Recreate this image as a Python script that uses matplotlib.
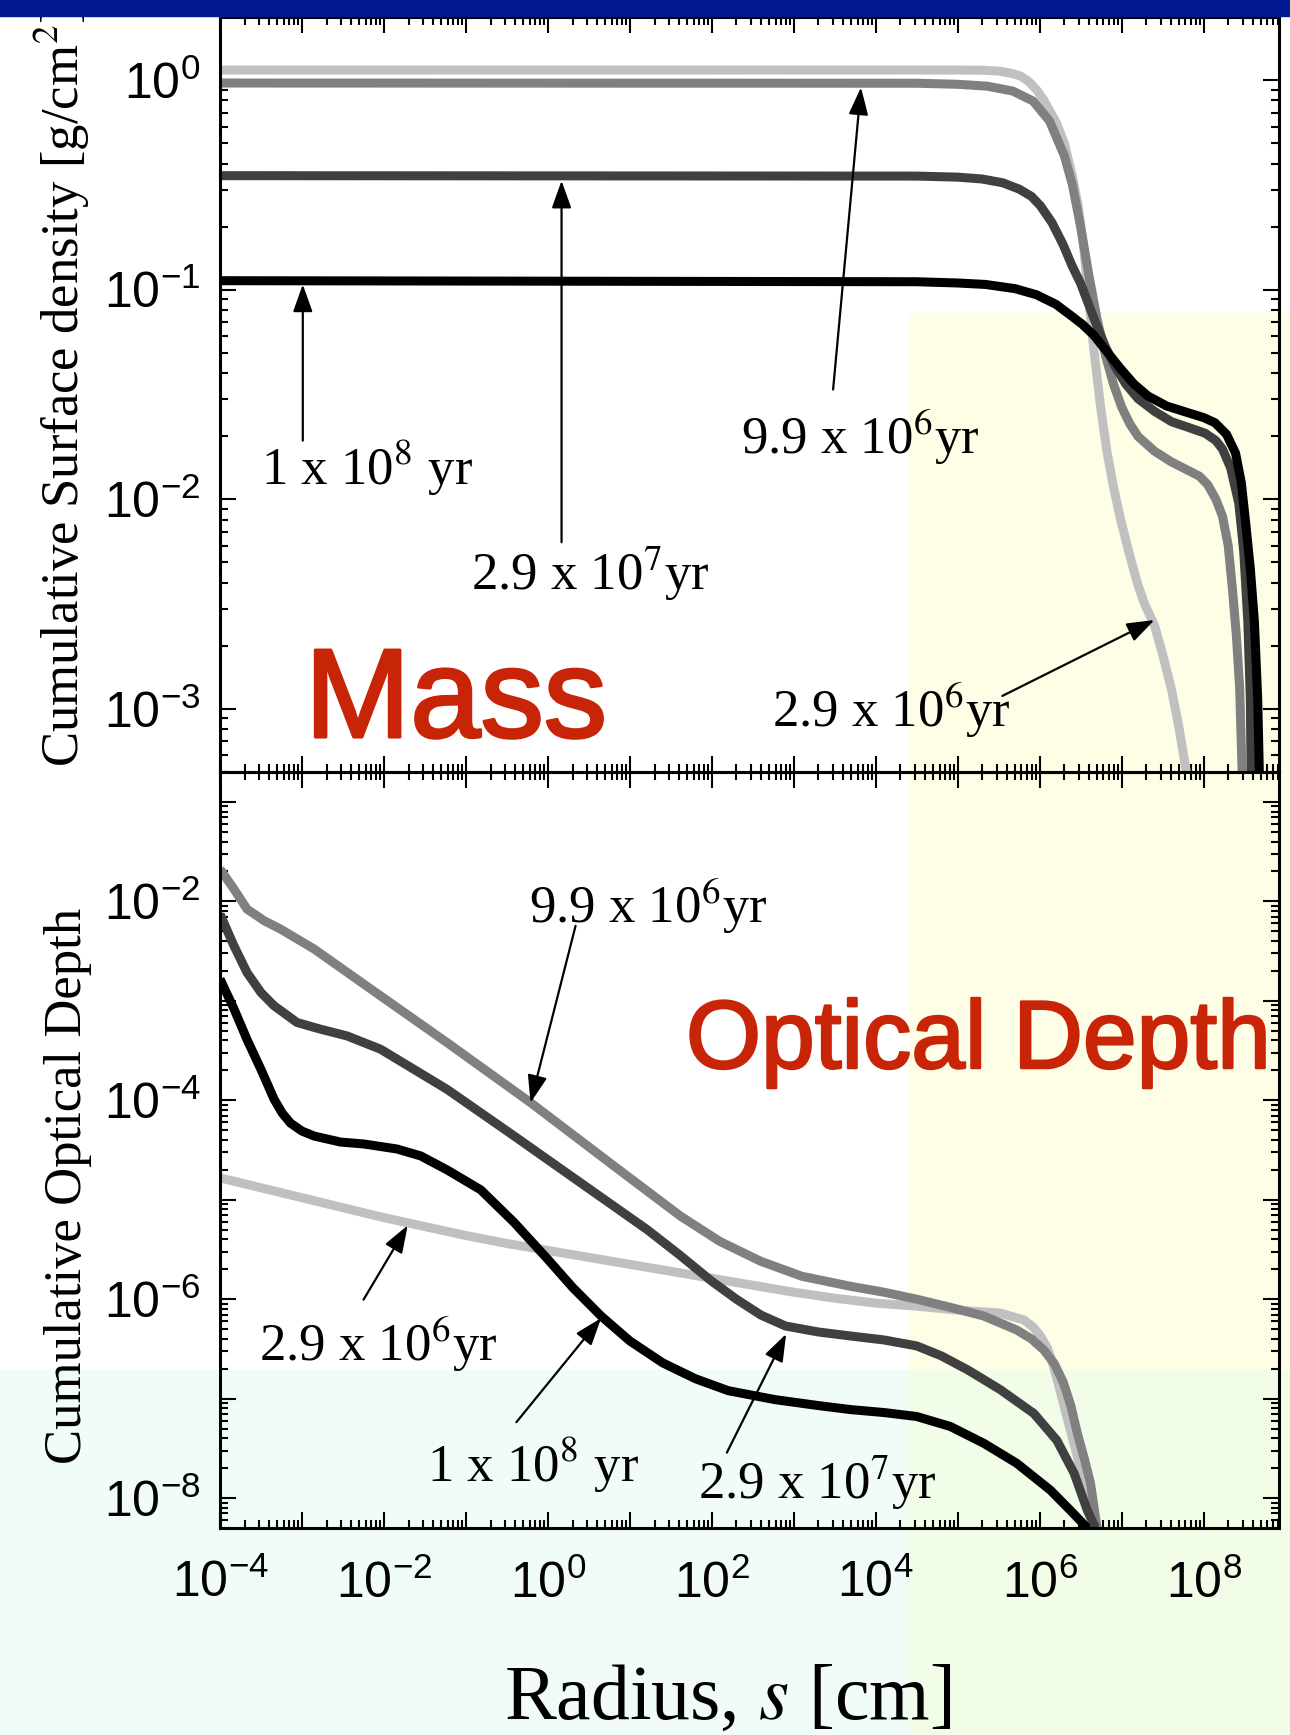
#!/usr/bin/env python3

'''
Cumulative surface density (mass) and cumulative optical depth
against particle radius, for four ages of the disk.
'''

import numpy as np
import matplotlib
matplotlib.use('Agg')
import matplotlib.pyplot as plt
import matplotlib.patheffects as pe
from matplotlib.patches import Rectangle
from matplotlib.ticker import LogLocator, FuncFormatter, NullFormatter

plt.rcParams['font.family'] = ['Liberation Sans', 'DejaVu Sans']
plt.rcParams['mathtext.fontset'] = 'stix'

SERIF = 'Liberation Serif'

AGES = ['2.9e6', '9.9e6', '2.9e7', '1e8']
GREYS = ['#c0c0c0', '#808080', '#404040', '#000000']

# ---- upper panel, log10 radius [cm] and log10 cumulative surface density
MASS_S_29E6 = [-4, 4, 5.0, 5.3, 5.5, 5.65, 5.77, 5.87, 5.97, 6.05, 6.12,
               6.2, 6.3, 6.4, 6.47, 6.54, 6.6, 6.66, 6.74, 6.82, 6.9, 6.99,
               7.1, 7.2, 7.28, 7.4, 7.5, 7.61, 7.7, 7.79]
MASS_Y_29E6 = [0.048, 0.048, 0.048, 0.047, 0.043, 0.033, 0.019, -0.008,
               -0.05, -0.095, -0.145, -0.2, -0.3, -0.46, -0.6, -0.81, -1.05,
               -1.28, -1.55, -1.77, -1.94, -2.1, -2.27, -2.41, -2.5, -2.6,
               -2.74, -2.91, -3.09, -3.3]

MASS_S_99E6 = [-4, 4.5, 5.0, 5.36, 5.67, 5.92, 6.12, 6.3, 6.4, 6.5, 6.6,
               6.7, 6.8, 6.9, 7.0, 7.1, 7.2, 7.4, 7.6, 7.8, 7.95, 8.05, 8.15,
               8.23, 8.3, 8.35, 8.4, 8.44, 8.47]
MASS_Y_99E6 = [-0.014, -0.015, -0.02, -0.029, -0.052, -0.1, -0.195, -0.36,
               -0.5, -0.7, -0.93, -1.14, -1.31, -1.45, -1.56, -1.64, -1.7,
               -1.77, -1.82, -1.86, -1.89, -1.93, -2.0, -2.08, -2.22, -2.42,
               -2.65, -2.9, -3.3]

MASS_S_29E7 = [-4, 4.5, 5.0, 5.3, 5.55, 5.75, 5.9, 6.01, 6.15, 6.28, 6.4,
               6.5, 6.66, 6.8, 6.91, 7.05, 7.2, 7.4, 7.61, 7.8, 8.02, 8.15,
               8.23, 8.33, 8.43, 8.49, 8.54, 8.57, 8.58]
MASS_Y_29E7 = [-0.456, -0.458, -0.463, -0.472, -0.49, -0.52, -0.555, -0.6,
               -0.68, -0.78, -0.89, -0.97, -1.135, -1.27, -1.36, -1.45, -1.52,
               -1.58, -1.63, -1.655, -1.685, -1.72, -1.76, -1.85, -2.02,
               -2.25, -2.585, -2.95, -3.3]

MASS_S_1E8 = [-4, 4.5, 5.0, 5.34, 5.7, 5.96, 6.2, 6.37, 6.52, 6.66, 6.83,
              6.99, 7.15, 7.32, 7.55, 7.81, 8.0, 8.14, 8.28, 8.39, 8.46, 8.51,
              8.57, 8.62, 8.66, 8.68]
MASS_Y_1E8 = [-0.957, -0.962, -0.968, -0.975, -0.995, -1.024, -1.07, -1.12,
              -1.165, -1.217, -1.3, -1.378, -1.45, -1.507, -1.555, -1.587,
              -1.61, -1.635, -1.69, -1.78, -1.92, -2.1, -2.33, -2.585, -2.95,
              -3.3]

# ---- lower panel, log10 radius [cm] and log10 cumulative optical depth
TAU_S_29E6 = [-4, -3.5, -3, -2.5, -2, -1.5, -1, -0.5, 0, 0.5, 1, 1.5, 2,
              2.5, 3, 3.5, 4, 4.5, 5.0, 5.52, 5.81, 5.92, 6.01, 6.1, 6.17,
              6.25, 6.33, 6.44, 6.54, 6.68]
TAU_Y_29E6 = [-4.78, -4.88, -4.98, -5.08, -5.18, -5.27, -5.36, -5.44, -5.51,
              -5.58, -5.65, -5.72, -5.79, -5.86, -5.93, -5.99, -6.04, -6.07,
              -6.11, -6.14, -6.21, -6.28, -6.37, -6.5, -6.68, -6.92, -7.18,
              -7.52, -7.85, -8.3]

TAU_S_99E6 = [-4, -3.83, -3.67, -3.46, -3.26, -2.85, -2.04, -1.23, -0.21,
              0.81, 1.62, 2.1, 2.6, 3.1, 3.69, 4.1, 4.5, 4.9, 5.32, 5.72, 5.9,
              6.05, 6.18, 6.29, 6.38, 6.46, 6.55, 6.62, 6.70]
TAU_Y_99E6 = [-1.675, -1.876, -2.078, -2.195, -2.279, -2.48, -2.951, -3.42,
              -4.024, -4.663, -5.166, -5.42, -5.62, -5.77, -5.87, -5.93, -6.0,
              -6.08, -6.17, -6.31, -6.4, -6.51, -6.65, -6.84, -7.07, -7.35,
              -7.62, -7.85, -8.3]

TAU_S_29E7 = [-4, -3.83, -3.67, -3.5, -3.34, -3.06, -2.77, -2.45, -2.04,
              -1.23, -0.41, 0.40, 1.21, 1.6, 2.0, 2.3, 2.6, 2.9, 3.3, 3.69,
              4.1, 4.5, 4.8, 5.12, 5.52, 5.93, 6.21, 6.42, 6.58, 6.68]
TAU_Y_29E7 = [-2.128, -2.447, -2.716, -2.917, -3.05, -3.218, -3.286, -3.353,
              -3.487, -3.89, -4.36, -4.83, -5.30, -5.55, -5.82, -6.0, -6.16,
              -6.27, -6.33, -6.37, -6.41, -6.47, -6.57, -6.71, -6.91, -7.15,
              -7.42, -7.75, -8.12, -8.3]

TAU_S_1E8 = [-4, -3.83, -3.67, -3.5, -3.34, -3.24, -3.14, -3.0, -2.85, -2.53,
             -2.24, -1.84, -1.55, -1.23, -0.82, -0.41, 0.0, 0.3, 0.65, 1.0,
             1.4, 1.8, 2.2, 2.77, 3.3, 3.69, 4.1, 4.5, 4.91, 5.32, 5.72, 6.13,
             6.37, 6.58]
TAU_Y_1E8 = [-2.78, -3.08, -3.39, -3.69, -3.99, -4.13, -4.23, -4.31, -4.36,
             -4.42, -4.44, -4.49, -4.56, -4.70, -4.90, -5.23, -5.6, -5.88,
             -6.17, -6.42, -6.64, -6.8, -6.92, -7.01, -7.07, -7.11, -7.14,
             -7.18, -7.28, -7.45, -7.65, -7.92, -8.12, -8.3]

MASS_S = [MASS_S_29E6, MASS_S_99E6, MASS_S_29E7, MASS_S_1E8]
MASS_Y = [MASS_Y_29E6, MASS_Y_99E6, MASS_Y_29E7, MASS_Y_1E8]
TAU_S = [TAU_S_29E6, TAU_S_99E6, TAU_S_29E7, TAU_S_1E8]
TAU_Y = [TAU_Y_29E6, TAU_Y_99E6, TAU_Y_29E7, TAU_Y_1E8]

# labels: text, text anchor (log s, log y), arrow tail, arrow tip
MASS_NOTES = [
    ('1 x 10$^8$ yr', (-3.50, -1.933), (-2.99, -1.72), (-2.99, -0.975)),
    ('2.9 x 10$^7$yr', (-0.94, -2.433), (0.167, -2.205), (0.167, -0.48)),
    ('9.9 x 10$^6$yr', (2.36, -1.784), (3.48, -1.476), (3.82, -0.035)),
    ('2.9 x 10$^6$yr', (2.74, -3.086), (5.545, -2.938), (7.40, -2.576)),
]
TAU_NOTES = [
    ('9.9 x 10$^6$yr', (-0.225, -2.219), (0.338, -2.246), (-0.211, -4.024)),
    ('2.9 x 10$^6$yr', (-3.525, -6.619), (-2.249, -6.005), (-1.71, -5.258)),
    ('1 x 10$^8$ yr', (-1.48, -7.838), (-0.384, -7.237), (0.65, -6.19)),
    ('2.9 x 10$^7$yr', (1.826, -8.009), (2.184, -7.543), (2.907, -6.35)),
]

W, H = 1290, 1735


def sci_label(even_only):
    def fmt(val, pos):
        exp = int(round(np.log10(val)))
        if even_only and exp % 2:
            return ''
        return '$\\mathdefault{10^{%d}}$' % exp
    return FuncFormatter(fmt)


def style_axis(ax, ylim, y_even_only, show_x):
    ax.set_xscale('log')
    ax.set_yscale('log')
    ax.set_xlim(1e-4, 10 ** 8.92)
    ax.set_ylim(*ylim)
    ax.set_facecolor('none')
    for sp in ax.spines.values():
        sp.set_linewidth(2.2)
    for axis in (ax.xaxis, ax.yaxis):
        axis.set_major_locator(LogLocator(base=10, numticks=40))
        axis.set_minor_locator(LogLocator(base=10, subs=np.arange(2, 10),
                                          numticks=40))
        axis.set_minor_formatter(NullFormatter())
    ax.xaxis.set_major_formatter(sci_label(True))
    ax.yaxis.set_major_formatter(sci_label(y_even_only))
    ax.tick_params(which='both', direction='in', top=True, right=True,
                   width=1.5, labelsize=36)
    ax.tick_params(which='major', length=11.5)
    ax.tick_params(which='minor', length=5.8)
    ax.tick_params(axis='x', pad=23, labelbottom=show_x)
    ax.tick_params(axis='y', pad=14)


def annotate(ax, notes):
    for text, anchor, tail, tip in notes:
        ax.text(10 ** anchor[0], 10 ** anchor[1], text, ha='left',
                va='baseline', fontsize=38, family=SERIF)
        ax.annotate('', xy=(10 ** tip[0], 10 ** tip[1]),
                    xytext=(10 ** tail[0], 10 ** tail[1]),
                    arrowprops=dict(arrowstyle='-|>,head_length=0.7,head_width=0.25',
                                    lw=1.6, color='k', mutation_scale=24,
                                    shrinkA=0, shrinkB=0))


fig = plt.figure(figsize=(W / 100, H / 100), dpi=100)
fig.patch.set_facecolor('white')

# pale highlight bands behind the panels
fig.patches.append(Rectangle((909 / W, 0), 1 - 909 / W, 1 - 313 / H,
                             transform=fig.transFigure, color='#fefee6',
                             zorder=-10))
fig.patches.append(Rectangle((0, 0), 909 / W, 1 - 1370 / H,
                             transform=fig.transFigure, color='#f1fcf9',
                             zorder=-9))
fig.patches.append(Rectangle((909 / W, 0), 1 - 909 / W, 1 - 1370 / H,
                             transform=fig.transFigure, color='#f1fde7',
                             zorder=-9))
# slide header bar
fig.patches.append(Rectangle((0, 1 - 15.7 / H), 1, 15.7 / H,
                             transform=fig.transFigure, color='#011a93',
                             zorder=20))

left, width = 220 / W, 1059 / W
ax_m = fig.add_axes([left, 1 - 772 / H, width, 755 / H])
ax_t = fig.add_axes([left, 1 - 1528 / H, width, 756 / H])

for s, y, c in zip(MASS_S, MASS_Y, GREYS):
    ax_m.plot(10 ** np.array(s), 10 ** np.array(y), color=c, lw=6.5,
              solid_capstyle='butt', solid_joinstyle='round')
for s, y, c in zip(TAU_S, TAU_Y, GREYS):
    ax_t.plot(10 ** np.array(s), 10 ** np.array(y), color=c, lw=6.5,
              solid_capstyle='butt', solid_joinstyle='round')

style_axis(ax_m, (5e-4, 2), False, False)
style_axis(ax_t, (5e-9, 0.2), True, True)

annotate(ax_m, MASS_NOTES)
annotate(ax_t, TAU_NOTES)

ax_m.set_ylabel('Cumulative Surface density [g/cm$^2$]', family=SERIF,
                fontsize=38)
ax_m.yaxis.set_label_coords(-0.121, 0.51)
ax_t.set_ylabel('Cumulative Optical Depth', family=SERIF, fontsize=38)
ax_t.yaxis.set_label_coords(-0.121, 0.452)

fig.text(728 / W, 1 - 1719 / H, 'Radius, $s$ [cm]', ha='center',
         va='baseline', fontsize=56, family=SERIF)

red = '#c82508'
fig.text(305 / W, 1 - 737 / H, 'Mass', color=red, fontsize=91,
         ha='left', va='baseline',
         path_effects=[pe.withStroke(linewidth=2.2, foreground=red)])
fig.text(686 / W, 1 - 1068 / H, 'Optical Depth', color=red,
         fontsize=69.5, ha='left', va='baseline',
         path_effects=[pe.withStroke(linewidth=1.8, foreground=red)])

fig.savefig('out.png', dpi=100)
